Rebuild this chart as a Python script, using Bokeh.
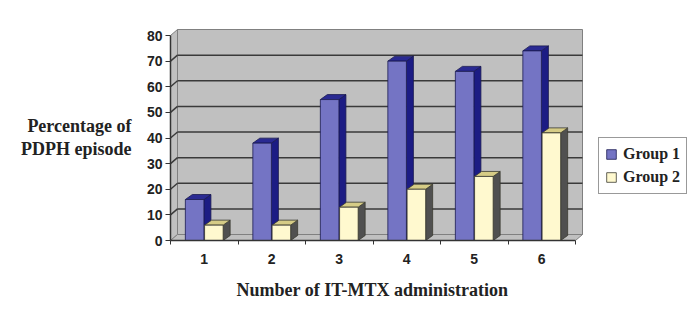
from bokeh.plotting import figure
from bokeh.models import Range1d, FixedTicker, Legend, LegendItem, LinearAxis
from bokeh.embed import file_html
from bokeh.resources import INLINE

# ---- data ----
categories = ["1", "2", "3", "4", "5", "6"]
group1 = [16, 38, 55, 70, 66, 74]
group2 = [6, 6, 13, 20, 25, 42]
series_names = ["Group 1", "Group 2"]
y_ticks = [0, 10, 20, 30, 40, 50, 60, 70, 80]
y_max = 80
x_title = "Number of IT-MTX administration"
y_title = ["Percentage of", "PDPH episode"]

# ---- layout constants (pixels) ----
CAT_PX = 67.5
UNIT_PX = 2.5625
FRAME_L, FRAME_B = 170, 240
FRAME_W, FRAME_H = 422, 216
WALL_DX, WALL_DY = 7 / CAT_PX, 6 / UNIT_PX
BAR_DX, BAR_DY = 7 / CAT_PX, 5 / UNIT_PX
BAR_W = 0.275
GAP = 0.005

n = len(categories)
x0r = 0.5
x1r = x0r + FRAME_W / CAT_PX
y1r = FRAME_H / UNIT_PX

p = figure(frame_width=FRAME_W, frame_height=FRAME_H,
           min_border_left=FRAME_L, min_border_right=100, min_border_top=FRAME_B - FRAME_H,
           min_border_bottom=62,
           x_range=Range1d(x0r, x1r), y_range=Range1d(0, y1r),
           output_backend="svg", toolbar_location=None, tools="")
p.outline_line_color = None
p.xgrid.visible = False
p.ygrid.visible = False
p.background_fill_color = "white"
p.border_fill_color = "white"

wall = "#C0C0C0"
wall_line = "#808080"
xl, xr = 0.5, 0.5 + n
p.patch([xl + WALL_DX, xr + WALL_DX, xr + WALL_DX, xl + WALL_DX],
        [WALL_DY, WALL_DY, y_max + WALL_DY, y_max + WALL_DY],
        fill_color=wall, line_color=wall_line, line_width=1)
p.patch([xl, xl + WALL_DX, xl + WALL_DX, xl],
        [0, WALL_DY, y_max + WALL_DY, y_max],
        fill_color=wall, line_color=wall_line, line_width=1)
p.patch([xl, xr, xr + WALL_DX, xl + WALL_DX],
        [0, 0, WALL_DY, WALL_DY],
        fill_color=wall, line_color=wall_line, line_width=1)

gx0, gx1, gy0, gy1 = [], [], [], []
for v in y_ticks[1:-1]:
    gx0.append(xl + WALL_DX); gx1.append(xr + WALL_DX); gy0.append(v + WALL_DY); gy1.append(v + WALL_DY)
    gx0.append(xl); gx1.append(xl + WALL_DX); gy0.append(v); gy1.append(v + WALL_DY)
p.segment(gx0, gy0, gx1, gy1, line_color="#3a3a3a", line_width=1.5)

styles = [
    dict(front="#7474C4", side="#1C1C84", top="#2A2A92", line="#1a1a50"),
    dict(front="#FFF9CF", side="#505050", top="#D6CC86", line="#3a3a30"),
]

front_renderers = []
for s, vals in enumerate([group1, group2]):
    st = styles[s]
    fl, fr, ft = [], [], []
    side_xs, side_ys, top_xs, top_ys = [], [], [], []
    for i, v in enumerate(vals):
        c = i + 1
        if s == 0:
            a, b = c - GAP - BAR_W, c - GAP
        else:
            a, b = c + GAP, c + GAP + BAR_W
        fl.append(a); fr.append(b); ft.append(v)
        side_xs.append([b, b + BAR_DX, b + BAR_DX, b])
        side_ys.append([0, BAR_DY, v + BAR_DY, v])
        top_xs.append([a, b, b + BAR_DX, a + BAR_DX])
        top_ys.append([v, v, v + BAR_DY, v + BAR_DY])
    p.patches(side_xs, side_ys, fill_color=st["side"], line_color=st["line"], line_width=0.8)
    p.patches(top_xs, top_ys, fill_color=st["top"], line_color=st["line"], line_width=0.8)
    r = p.quad(left=fl, right=fr, bottom=0, top=ft, fill_color=st["front"],
               line_color=st["line"], line_width=0.8)
    front_renderers.append(r)

TICK_FONT = "Liberation Sans"
TITLE_FONT = "Liberation Serif"

xa = p.xaxis[0]
xa.ticker = FixedTicker(ticks=list(range(1, n + 1)), minor_ticks=[k + 0.5 for k in range(0, n + 1)])
xa.major_label_overrides = {i + 1: c for i, c in enumerate(categories)}
xa.bounds = (0.5, 0.5 + n)
xa.major_tick_out = 0
xa.major_tick_in = 0
xa.minor_tick_out = 4
xa.minor_tick_in = 0
xa.minor_tick_line_color = "#333333"
xa.axis_line_color = "#333333"
xa.axis_line_width = 1.5
xa.major_label_standoff = 9
xa.major_label_text_font = TICK_FONT
xa.major_label_text_font_style = "bold"
xa.major_label_text_font_size = "14px"
xa.major_label_text_color = "#222222"

ya = p.yaxis[0]
ya.ticker = FixedTicker(ticks=y_ticks, minor_ticks=[])
ya.bounds = (0, y_max)
ya.major_tick_out = 5
ya.major_tick_in = 0
ya.minor_tick_out = 0
ya.major_tick_line_color = "#333333"
ya.axis_line_color = "#333333"
ya.axis_line_width = 1.5
ya.major_label_standoff = 3
ya.major_label_text_font = TICK_FONT
ya.major_label_text_font_style = "bold"
ya.major_label_text_font_size = "14px"
ya.major_label_text_color = "#222222"

# title axes: extra ranges in page-pixel units so the titles sit where the reference puts them
p.extra_y_ranges = {"ypx": Range1d(start=FRAME_B, end=FRAME_B - FRAME_H)}
p.extra_x_ranges = {"xpx": Range1d(start=FRAME_L, end=FRAME_L + FRAME_W)}
YT_POS = [125, 148]
XT_POS = 372

def title_axis(ax, standoff):
    ax.axis_line_color = None
    ax.major_tick_line_color = None
    ax.minor_tick_line_color = None
    ax.major_tick_out = 0
    ax.major_tick_in = 0
    ax.minor_tick_out = 0
    ax.minor_tick_in = 0
    ax.major_label_standoff = standoff
    ax.major_label_text_font = TITLE_FONT
    ax.major_label_text_font_style = "bold"
    ax.major_label_text_font_size = "18px"
    ax.major_label_text_color = "#222222"
    return ax

yt = title_axis(LinearAxis(y_range_name="ypx", ticker=FixedTicker(ticks=YT_POS, minor_ticks=[]),
                           major_label_overrides={YT_POS[0]: y_title[0], YT_POS[1]: y_title[1]}), 12)
p.add_layout(yt, "left")
xt = title_axis(LinearAxis(x_range_name="xpx", ticker=FixedTicker(ticks=[XT_POS], minor_ticks=[]),
                           major_label_overrides={XT_POS: x_title}), 13)
p.add_layout(xt, "below")

legend = Legend(items=[LegendItem(label=series_names[k], renderers=[front_renderers[k]]) for k in range(2)],
                location=(6, 46))
legend.label_text_font = TITLE_FONT
legend.label_text_font_style = "bold"
legend.label_text_font_size = "16px"
legend.label_text_color = "#222222"
legend.glyph_width = 12
legend.glyph_height = 12
legend.label_height = 20
legend.label_standoff = 6
legend.spacing = 3
legend.padding = 6
legend.margin = 0
legend.border_line_color = "#333333"
legend.border_line_width = 1
legend.background_fill_color = "white"
legend.background_fill_alpha = 1
p.add_layout(legend, "right")

open("out.html", "w").write(file_html(p, INLINE))
